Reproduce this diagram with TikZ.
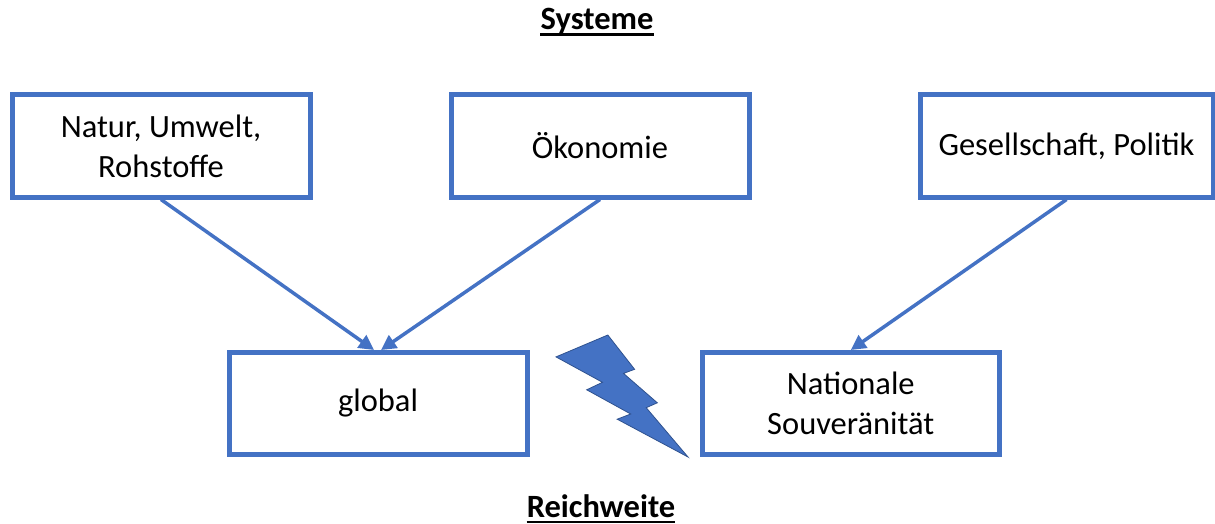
\documentclass[tikz,border=0pt]{standalone}
\usepackage{fontspec}
\setmainfont{Carlito}
\usetikzlibrary{arrows.meta,calc}
\definecolor{boxblue}{HTML}{4472C4}
\definecolor{boltedge}{HTML}{2F528F}
\begin{document}
\begin{tikzpicture}[x=1pt,y=-1pt,
  box/.style={draw=boxblue,line width=5pt,fill=white,align=center,
    minimum width=298pt,minimum height=102pt,inner sep=0pt,
    font=\fontsize{32.5}{40}\selectfont},
  conn/.style={draw=boxblue,line width=3.5pt,-{Triangle[length=15pt,width=15pt]}},
  title/.style={font=\bfseries\fontsize{32.5}{36}\selectfont,inner sep=0pt,anchor=base},
  uline/.style={line width=2.8pt}]
\useasboundingbox (0,0) rectangle (1215,524);
\node[box] (b1) at (161,146) {Natur, Umwelt,\\Rohstoffe};
\node[box] (b2) at (600,146) {Ökonomie};
\node[box,minimum width=293pt] (b3) at (1066.5,146) {Gesellschaft, Politik};
\node[box] (g) at (378,403.5) {global};
\node[box,minimum width=296.5pt] (n) at (850.75,403.5) {Nationale\\Souveränität};
\node[title] (sys) at (597,30) {Systeme};
\draw[uline] ($(sys.base west)+(0,4.5)$) -- ($(sys.base east)+(0,4.5)$);
\node[title] (rw) at (601,517) {Reichweite};
\draw[uline] ($(rw.base west)+(0,5)$) -- ($(rw.base east)+(0,5)$);
\draw[conn] (b1.south) -- ($(g.north)+(-4,0)$);
\draw[conn] (b2.south) -- ($(g.north)+(3,0)$);
\draw[conn] (b3.south) -- (n.north);
\filldraw[fill=boxblue,draw=boltedge,line width=0.8pt,line join=miter]
  (607.8,335) -- (634.6,369.3) -- (623.5,373.4) -- (657.3,402.8) -- (646.2,407.7)
  -- (688,457) -- (617.2,419.2) -- (630.7,414) -- (586.7,389.8) -- (602.5,382.3)
  -- (556,356.9) -- cycle;
\end{tikzpicture}
\end{document}
